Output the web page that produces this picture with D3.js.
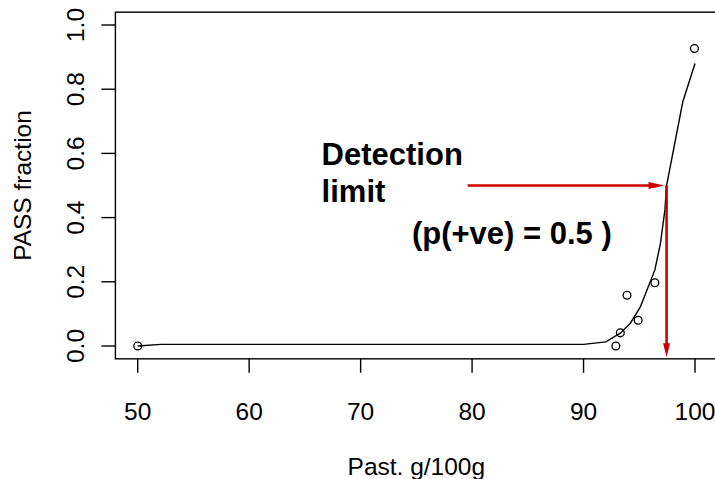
<!DOCTYPE html>
<html lang="en">
<head>
  <meta charset="utf-8">
  <title>Detection limit</title>
  <script src="https://d3js.org/d3.v7.min.js" charset="utf-8"></script>
  <style type="text/css">
    body { margin: 0; background: #fff; }
    text { font-family: "Liberation Sans", Arial, sans-serif; fill: #000; }
  </style>
</head>
<body>
  <svg id="chart"></svg>
  <script type="text/javascript">
    // observed fractions
    const obsX = [50, 92.9, 93.3, 93.9, 94.9, 96.4, 99.95];
    const obsY = [0, 0, 0.041, 0.158, 0.080, 0.197, 0.927];
    // fitted curve
    const fitX = [50, 52.1, 90, 92, 93.3, 94.2, 95.1, 96.4, 96.9, 97.3, 97.45, 98.9, 100];
    const fitY = [0, 0.005, 0.005, 0.013, 0.04, 0.071, 0.122, 0.237, 0.32, 0.424, 0.5, 0.76, 0.88];
    const xTicks = [50, 60, 70, 80, 90, 100];
    const yTicks = [0, 0.2, 0.4, 0.6, 0.8, 1.0];
    const limitX = 97.45, limitP = 0.5, arrowStartX = 79.6;

    const W = 715, H = 479;
    const svg = d3.select("#chart").attr("width", W).attr("height", H);

    const x = d3.scaleLinear().domain([50, 100]).range([137.7, 695]);
    const y = d3.scaleLinear().domain([0, 1]).range([346, 25]);

    // box
    svg.append("rect")
      .attr("x", x(48)).attr("y", y(1.04))
      .attr("width", x(102) - x(48)).attr("height", y(-0.04) - y(1.04))
      .attr("fill", "none").attr("stroke", "#000").attr("stroke-width", 1.4);

    // x axis
    const xa = svg.append("g");
    xa.selectAll("line").data(xTicks).enter().append("line")
      .attr("x1", d => x(d)).attr("x2", d => x(d))
      .attr("y1", y(-0.04)).attr("y2", y(-0.04) + 14)
      .attr("stroke", "#000").attr("stroke-width", 1.4);
    xa.selectAll("text").data(xTicks).enter().append("text")
      .attr("x", d => x(d)).attr("y", 420)
      .attr("text-anchor", "middle").attr("font-size", 24.5)
      .text(d => d);

    // y axis
    const ya = svg.append("g");
    ya.selectAll("line").data(yTicks).enter().append("line")
      .attr("x1", x(48) - 14).attr("x2", x(48))
      .attr("y1", d => y(d)).attr("y2", d => y(d))
      .attr("stroke", "#000").attr("stroke-width", 1.4);
    ya.selectAll("text").data(yTicks).enter().append("text")
      .attr("transform", d => `translate(84, ${y(d)}) rotate(-90)`)
      .attr("text-anchor", "middle").attr("font-size", 24.5)
      .text(d => d.toFixed(1));

    svg.append("text")
      .attr("x", (x(48) + x(102)) / 2).attr("y", 475)
      .attr("text-anchor", "middle").attr("font-size", 24.5)
      .text("Past. g/100g");
    svg.append("text")
      .attr("transform", `translate(31, ${(y(1.04) + y(-0.04)) / 2}) rotate(-90)`)
      .attr("text-anchor", "middle").attr("font-size", 24.5)
      .text("PASS fraction");

    // fitted curve
    const line = d3.line().x(d => x(d[0])).y(d => y(d[1]));
    svg.append("path")
      .datum(fitX.map((v, i) => [v, fitY[i]]))
      .attr("d", line)
      .attr("fill", "none").attr("stroke", "#000").attr("stroke-width", 1.4);

    // points
    svg.selectAll("circle.obs").data(obsX).enter().append("circle")
      .attr("class", "obs")
      .attr("cx", d => x(d)).attr("cy", (d, i) => y(obsY[i]))
      .attr("r", 3.9)
      .attr("fill", "none").attr("stroke", "#000").attr("stroke-width", 1.3);

    // red arrows
    const red = "#cc0000";
    const hx0 = x(arrowStartX), hx1 = x(limitX) - 2, hy = y(limitP);
    svg.append("line")
      .attr("x1", hx0).attr("x2", hx1 - 10).attr("y1", hy).attr("y2", hy)
      .attr("stroke", red).attr("stroke-width", 2.6);
    svg.append("path")
      .attr("d", `M${hx1},${hy} L${hx1 - 16},${hy - 3.5} L${hx1 - 16},${hy + 3.5} Z`)
      .attr("fill", red);

    const vx = x(limitX), vy0 = y(limitP), vy1 = y(-0.035);
    svg.append("line")
      .attr("x1", vx).attr("x2", vx).attr("y1", vy0).attr("y2", vy1 - 8)
      .attr("stroke", red).attr("stroke-width", 2.6);
    svg.append("path")
      .attr("d", `M${vx},${vy1} L${vx - 3.5},${vy1 - 14} L${vx + 3.5},${vy1 - 14} Z`)
      .attr("fill", red);

    // annotation
    const ann = svg.append("g").attr("font-size", 31).attr("font-weight", "bold");
    ann.append("text").attr("x", x(66.5)).attr("y", y(0.564)).text("Detection");
    ann.append("text").attr("x", x(66.5)).attr("y", y(0.449)).text("limit");
    ann.append("text").attr("x", x(74.6)).attr("y", y(0.318)).text("(p(+ve) = 0.5 )");
  </script>
</body>
</html>
